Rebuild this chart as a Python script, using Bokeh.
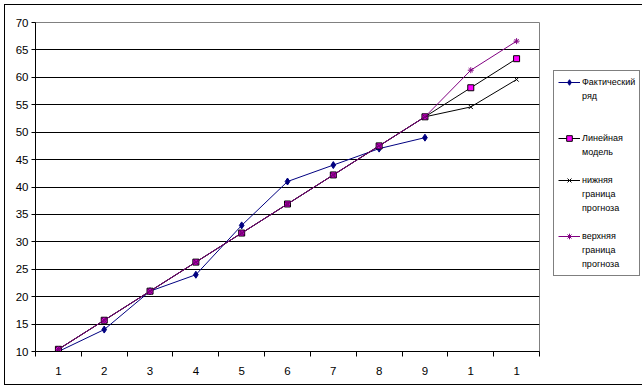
from bokeh.plotting import figure
from bokeh.models import FixedTicker, Legend, LegendItem, Range1d
from bokeh.embed import file_html
from bokeh.resources import INLINE

# ---- data ----
x_pos = [1, 2, 3, 4, 5, 6, 7, 8, 9, 10, 11]
x_labels = ["1", "2", "3", "4", "5", "6", "7", "8", "9", "1", "1"]
fact = [10, 14, 21, 24, 33, 41, 44, 47, 49]
model = [10.4, 15.7, 21.0, 26.3, 31.6, 36.9, 42.2, 47.5, 52.8, 58.1, 63.4]
lower = [10.4, 15.7, 21.0, 26.3, 31.6, 36.9, 42.2, 47.5, 52.8, 54.6, 59.6]
upper = [10.4, 15.7, 21.0, 26.3, 31.6, 36.9, 42.2, 47.5, 52.8, 61.3, 66.6]
y_ticks = [10, 15, 20, 25, 30, 35, 40, 45, 50, 55, 60, 65, 70]
names = [["Фактический", "ряд"], ["Линейная", "модель"],
         ["нижняя", "граница", "прогноза"], ["верхняя", "граница", "прогноза"]]

FONT = "Liberation Sans"

p = figure(frame_width=504, frame_height=329, output_backend="svg", toolbar_location=None,
           x_range=Range1d(0.5, 11.5), y_range=Range1d(10, 70),
           min_border_left=30, min_border_top=17, min_border_right=97,
           min_border_bottom=33)
p.styles = {"border": "1px solid black", "margin-left": "4px", "margin-top": "4px"}
p.outline_line_color = "#808080"
p.background_fill_color = "white"

# axes
p.xaxis.ticker = FixedTicker(ticks=x_pos, minor_ticks=[v - 0.5 for v in x_pos] + [x_pos[-1] + 0.5])
p.xaxis.major_label_overrides = {k: v for k, v in zip(x_pos, x_labels)}
p.xaxis.major_tick_out = 0
p.xaxis.major_tick_in = 0
p.xaxis.minor_tick_out = 5
p.xaxis.minor_tick_in = 0
p.xaxis.major_label_standoff = 10
p.yaxis.ticker = FixedTicker(ticks=y_ticks)
p.yaxis.major_tick_out = 4
p.yaxis.major_tick_in = 0
p.yaxis.minor_tick_line_color = None
p.yaxis.major_label_standoff = 3
for ax in (p.xaxis, p.yaxis):
    ax.axis_line_color = "black"
    ax.major_tick_line_color = "black"
    ax.major_label_text_font = FONT
    ax.major_label_text_font_size = "11.5px"
    ax.major_label_text_color = "black"
p.xaxis.minor_tick_line_color = "black"

p.xgrid.grid_line_color = None
p.ygrid.ticker = FixedTicker(ticks=y_ticks[1:-1])
p.ygrid.grid_line_color = "black"
p.ygrid.grid_line_width = 1

# series
l1 = p.line(x_pos[:len(fact)], fact, line_color="#000080", line_width=1)
s1 = p.scatter(x_pos[:len(fact)], fact, marker="diamond", size=7,
               fill_color="#000080", line_color="#000080")
l2 = p.line(x_pos, model, line_color="black", line_width=1)
s2 = p.scatter(x_pos, model, marker="square", size=6,
               fill_color="#FF00FF", line_color="black")
l3 = p.line(x_pos, lower, line_color="black", line_width=1)
s3 = p.scatter(x_pos, lower, marker="x", size=6, line_color="black")
l4 = p.line(x_pos, upper, line_color="#800080", line_width=1)
s4 = p.scatter(x_pos, upper, marker="asterisk", size=6, line_color="#800080")

# legend: one item per text line, blank rows as spacers
rends = [[l1, s1], [l2, s2], [l3, s3], [l4, s4]]
gaps = [2, 1, 1, 0]
items = []
for words, rs, g in zip(names, rends, gaps):
    items.append(LegendItem(label=words[0], renderers=rs))
    for w in words[1:]:
        items.append(LegendItem(label=w, renderers=[]))
    for _ in range(g):
        items.append(LegendItem(label=" ", renderers=[]))

legend = Legend(items=items, location=(14, 75))
legend.label_text_font = FONT
legend.label_text_font_size = "9px"
legend.label_text_color = "black"
legend.glyph_width = 22
legend.glyph_height = 14
legend.label_height = 14
legend.label_standoff = 2
legend.padding = 4
legend.spacing = 0
legend.margin = 0
legend.border_line_color = "black"
legend.border_line_width = 1
legend.background_fill_color = "white"
legend.background_fill_alpha = 1
p.add_layout(legend, "right")

open("out.html", "w").write(file_html(p, INLINE))
